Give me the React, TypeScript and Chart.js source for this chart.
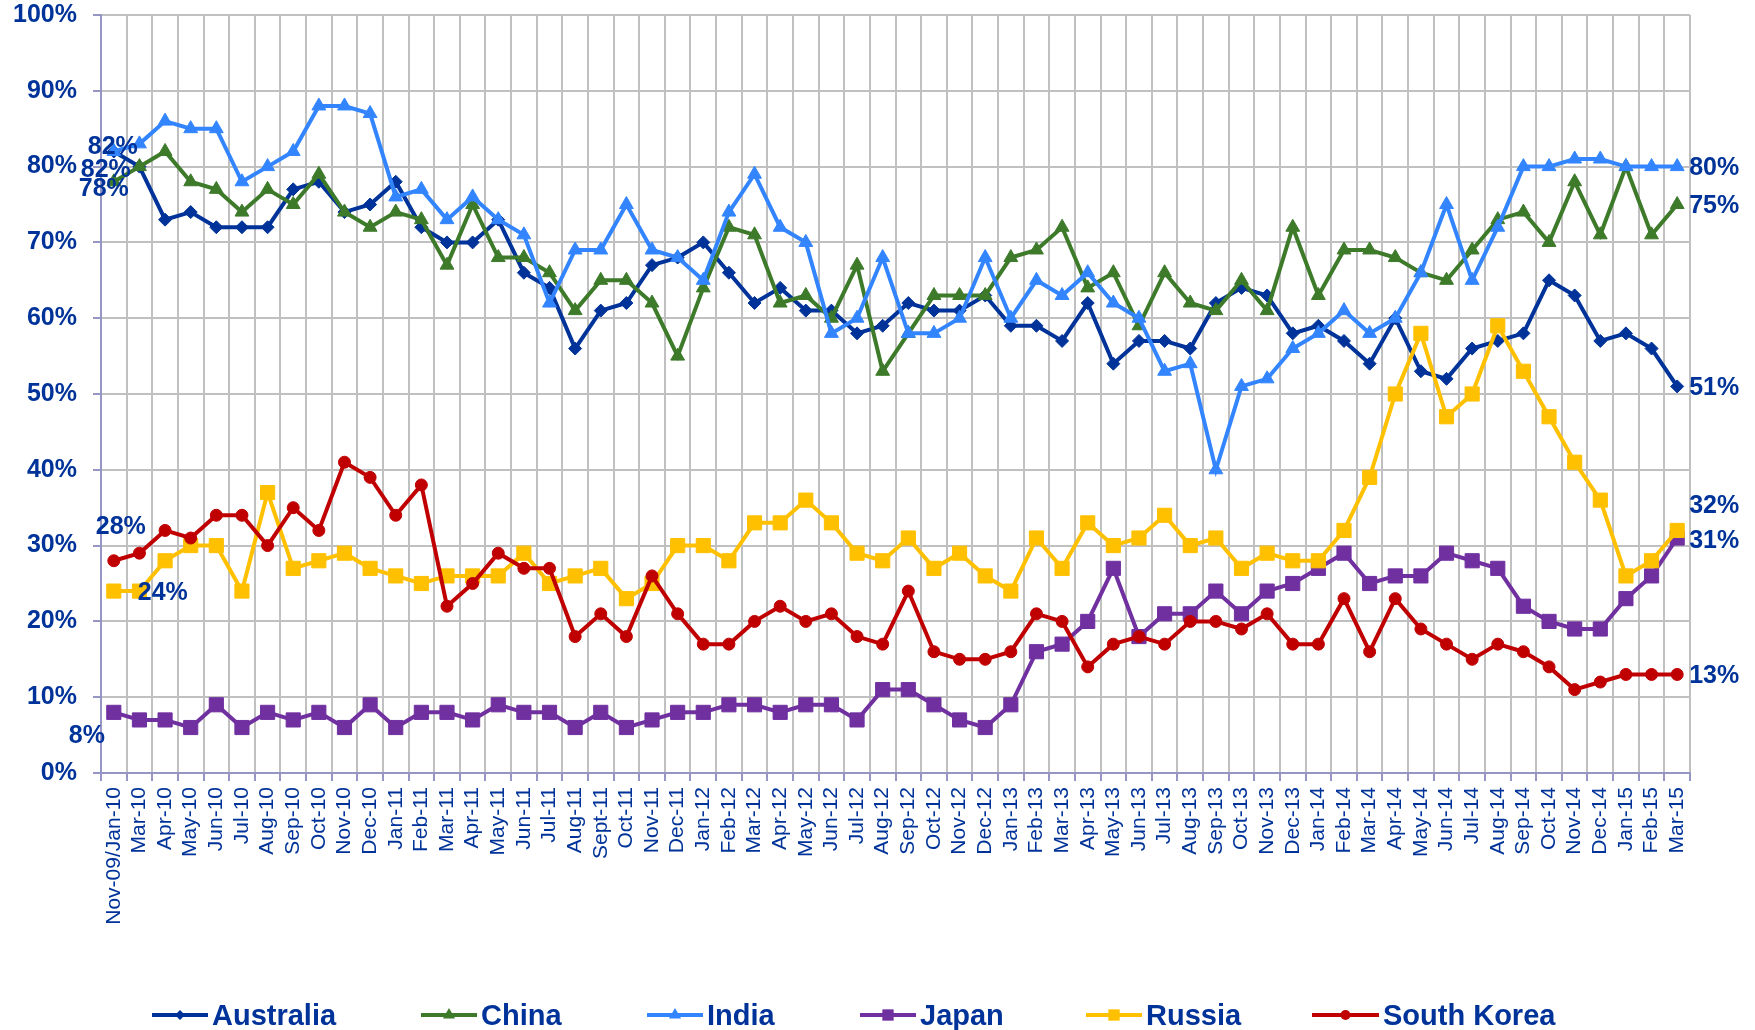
import React, { useEffect, useRef } from 'react';
import { Chart, registerables } from 'chart.js';

Chart.register(...registerables);

// ---------------- data ----------------
const categories = [
  'Nov-09/Jan-10', 'Mar-10', 'Apr-10', 'May-10', 'Jun-10', 'Jul-10', 'Aug-10', 'Sep-10', 'Oct-10', 'Nov-10',
  'Dec-10', 'Jan-11', 'Feb-11', 'Mar-11', 'Apr-11', 'May-11', 'Jun-11', 'Jul-11', 'Aug-11', 'Sept-11',
  'Oct-11', 'Nov-11', 'Dec-11', 'Jan-12', 'Feb-12', 'Mar-12', 'Apr-12', 'May-12', 'Jun-12', 'Jul-12',
  'Aug-12', 'Sep-12', 'Oct-12', 'Nov-12', 'Dec-12', 'Jan-13', 'Feb-13', 'Mar-13', 'Apr-13', 'May-13',
  'Jun-13', 'Jul-13', 'Aug-13', 'Sep-13', 'Oct-13', 'Nov-13', 'Dec-13', 'Jan-14', 'Feb-14', 'Mar-14',
  'Apr-14', 'May-14', 'Jun-14', 'Jul-14', 'Aug-14', 'Sep-14', 'Oct-14', 'Nov-14', 'Dec-14', 'Jan-15',
  'Feb-15', 'Mar-15',
];

const australia = [
  82, 80, 73, 74, 72, 72, 72, 77, 78, 74,
  75, 78, 72, 70, 70, 73, 66, 64, 56, 61,
  62, 67, 68, 70, 66, 62, 64, 61, 61, 58,
  59, 62, 61, 61, 63, 59, 59, 57, 62, 54,
  57, 57, 56, 62, 64, 63, 58, 59, 57, 54,
  60, 53, 52, 56, 57, 58, 65, 63, 57, 58,
  56, 51,
];

const china = [
  78, 80, 82, 78, 77, 74, 77, 75, 79, 74,
  72, 74, 73, 67, 75, 68, 68, 66, 61, 65,
  65, 62, 55, 64, 72, 71, 62, 63, 60, 67,
  53, 58, 63, 63, 63, 68, 69, 72, 64, 66,
  59, 66, 62, 61, 65, 61, 72, 63, 69, 69,
  68, 66, 65, 69, 73, 74, 70, 78, 71, 80,
  71, 75,
];

const india = [
  82, 83, 86, 85, 85, 78, 80, 82, 88, 88,
  87, 76, 77, 73, 76, 73, 71, 62, 69, 69,
  75, 69, 68, 65, 74, 79, 72, 70, 58, 60,
  68, 58, 58, 60, 68, 60, 65, 63, 66, 62,
  60, 53, 54, 40, 51, 52, 56, 58, 61, 58,
  60, 66, 75, 65, 72, 80, 80, 81, 81, 80,
  80, 80,
];

const japan = [
  8, 7, 7, 6, 9, 6, 8, 7, 8, 6,
  9, 6, 8, 8, 7, 9, 8, 8, 6, 8,
  6, 7, 8, 8, 9, 9, 8, 9, 9, 7,
  11, 11, 9, 7, 6, 9, 16, 17, 20, 27,
  18, 21, 21, 24, 21, 24, 25, 27, 29, 25,
  26, 26, 29, 28, 27, 22, 20, 19, 19, 23,
  26, 31,
];

const russia = [
  24, 24, 28, 30, 30, 24, 37, 27, 28, 29,
  27, 26, 25, 26, 26, 26, 29, 25, 26, 27,
  23, 25, 30, 30, 28, 33, 33, 36, 33, 29,
  28, 31, 27, 29, 26, 24, 31, 27, 33, 30,
  31, 34, 30, 31, 27, 29, 28, 28, 32, 39,
  50, 58, 47, 50, 59, 53, 47, 41, 36, 26,
  28, 32,
];

const southKorea = [
  28, 29, 32, 31, 34, 34, 30, 35, 32, 41,
  39, 34, 38, 22, 25, 29, 27, 27, 18, 21,
  18, 26, 21, 17, 17, 20, 22, 20, 21, 18,
  17, 24, 16, 15, 15, 16, 21, 20, 14, 17,
  18, 17, 20, 20, 19, 21, 17, 17, 23, 16,
  23, 19, 17, 15, 17, 16, 14, 11, 12, 13,
  13, 13,
];

const seriesNames = ['Australia', 'China', 'India', 'Japan', 'Russia', 'South Korea'];
const seriesValues = [australia, china, india, japan, russia, southKorea];

// y-axis tick values
const yTicks = [0, 10, 20, 30, 40, 50, 60, 70, 80, 90, 100];

// ---------------- styles ----------------
const FONT = '"Liberation Sans", Arial, Helvetica, sans-serif';
const TEXT = '#003399';
const GRID = '#C0C0C0';
const AXIS = '#9696C4';

type SeriesStyle = {
  color: string;
  pointStyle: string;
  radius: number;
  legendRadius: number;
  legendX: number;
  legendLine: number;
  leftOffset: [number, number];
  rightOffset: number;
};

const seriesStyles: SeriesStyle[] = [
  { color: '#003399', pointStyle: 'rectRot', radius: 6.5, legendRadius: 5, legendX: 152, legendLine: 56, leftOffset: [-8, 19], rightOffset: 2 },
  { color: '#3D7A2A', pointStyle: 'triangle', radius: 8, legendRadius: 7, legendX: 421, legendLine: 56, leftOffset: [-10, 7], rightOffset: 2 },
  { color: '#3385FF', pointStyle: 'triangle', radius: 8, legendRadius: 7, legendX: 647, legendLine: 56, leftOffset: [-1, -4], rightOffset: 2 },
  { color: '#7030A0', pointStyle: 'rect', radius: 10, legendRadius: 8, legendX: 860, legendLine: 56, leftOffset: [-27, 24], rightOffset: 3 },
  { color: '#FFC000', pointStyle: 'rect', radius: 10, legendRadius: 8, legendX: 1086, legendLine: 56, leftOffset: [49, 2], rightOffset: -24 },
  { color: '#C00000', pointStyle: 'circle', radius: 6, legendRadius: 5, legendX: 1312, legendLine: 67, leftOffset: [7, -34], rightOffset: 2 },
];

function drawMarker(ctx: CanvasRenderingContext2D, style: string, x: number, y: number, r: number, color: string) {
  ctx.fillStyle = color;
  ctx.beginPath();
  if (style === 'rectRot') {
    ctx.moveTo(x - r, y);
    ctx.lineTo(x, y - r);
    ctx.lineTo(x + r, y);
    ctx.lineTo(x, y + r);
    ctx.closePath();
  } else if (style === 'triangle') {
    for (let k = 0; k < 3; k++) {
      const a = (k * 2 * Math.PI) / 3;
      const px = x + Math.sin(a) * r;
      const py = y - Math.cos(a) * r;
      if (k === 0) ctx.moveTo(px, py);
      else ctx.lineTo(px, py);
    }
    ctx.closePath();
  } else if (style === 'rect') {
    const s = r * Math.SQRT1_2;
    ctx.rect(x - s, y - s, 2 * s, 2 * s);
  } else {
    ctx.arc(x, y, r, 0, Math.PI * 2);
  }
  ctx.fill();
}

const endLabelsPlugin = {
  id: 'endLabels',
  afterDatasetsDraw(chart: any) {
    const ctx: CanvasRenderingContext2D = chart.ctx;
    ctx.save();
    ctx.font = `bold 25px ${FONT}`;
    ctx.fillStyle = TEXT;
    ctx.textBaseline = 'middle';
    chart.data.datasets.forEach((ds: any, i: number) => {
      const meta = chart.getDatasetMeta(i);
      const pts = meta.data;
      const st = seriesStyles[i];
      const first = pts[0];
      const last = pts[pts.length - 1];
      ctx.textAlign = 'center';
      ctx.fillText(ds.data[0] + '%', first.x + st.leftOffset[0], first.y + st.leftOffset[1]);
      ctx.textAlign = 'left';
      ctx.fillText(ds.data[ds.data.length - 1] + '%', last.x + 12, last.y + st.rightOffset);
    });
    ctx.restore();
  },
};

const legendPlugin = {
  id: 'lineLegend',
  afterDraw(chart: any) {
    const ctx: CanvasRenderingContext2D = chart.ctx;
    ctx.save();
    ctx.font = `bold 29px ${FONT}`;
    const y = 1015;
    chart.data.datasets.forEach((ds: any, i: number) => {
      const st = seriesStyles[i];
      const x = st.legendX;
      ctx.strokeStyle = st.color;
      ctx.lineWidth = 4;
      ctx.beginPath();
      ctx.moveTo(x, y);
      ctx.lineTo(x + st.legendLine, y);
      ctx.stroke();
      drawMarker(ctx, st.pointStyle, x + st.legendLine / 2, y, st.legendRadius, st.color);
      ctx.fillStyle = TEXT;
      ctx.textAlign = 'left';
      ctx.textBaseline = 'alphabetic';
      ctx.fillText(ds.label, x + st.legendLine + 4, y + 10);
    });
    ctx.restore();
  },
};

export default function App() {
  const canvasRef = useRef<HTMLCanvasElement | null>(null);

  useEffect(() => {
    const canvas = canvasRef.current;
    if (!canvas) return;

    const datasets = seriesNames.map((name, i) => {
      const st = seriesStyles[i];
      return {
        label: name,
        data: seriesValues[i],
        borderColor: st.color,
        backgroundColor: st.color,
        borderWidth: 4,
        pointStyle: st.pointStyle,
        pointRadius: st.radius,
        pointBackgroundColor: st.color,
        pointBorderColor: st.color,
        pointBorderWidth: 1,
        tension: 0,
        fill: false,
        order: seriesNames.length - 1 - i,
      };
    });

    const chart = new Chart(canvas, {
      type: 'line',
      data: { labels: categories, datasets },
      options: {
        animation: false,
        responsive: false,
        maintainAspectRatio: false,
        devicePixelRatio: 1,
        events: [],
        layout: { padding: { left: 0, right: 65, top: 15, bottom: 0 } },
        plugins: {
          legend: { display: false },
          tooltip: { enabled: false },
          title: { display: false },
        },
        scales: {
          x: {
            type: 'category',
            offset: true,
            grid: {
              offset: true,
              color: (c: any) => (c.index === 0 ? 'rgba(0,0,0,0)' : GRID),
              lineWidth: 2,
              tickLength: 8,
              tickColor: AXIS,
              tickWidth: 2,
            },
            border: { color: AXIS, width: 2 },
            ticks: {
              autoSkip: false,
              minRotation: 90,
              maxRotation: 90,
              padding: 6,
              color: TEXT,
              font: { family: FONT, size: 21, weight: 'normal' },
            },
            afterFit: (scale: any) => {
              scale.height = 257;
              scale.paddingLeft = 0;
              scale.paddingRight = 0;
            },
          },
          y: {
            min: 0,
            max: 100,
            afterBuildTicks: (scale: any) => {
              scale.ticks = yTicks.map((v) => ({ value: v }));
            },
            grid: {
              color: (c: any) => (c.tick && c.tick.value === 0 ? 'rgba(0,0,0,0)' : GRID),
              lineWidth: 2,
              tickLength: 8,
              tickColor: AXIS,
              tickWidth: 2,
            },
            border: { color: AXIS, width: 2 },
            ticks: {
              padding: 16,
              color: TEXT,
              font: { family: FONT, size: 25, weight: 'bold' },
              callback: (v: any) => v + '%',
            },
            afterFit: (scale: any) => {
              scale.width = 101;
              scale.paddingTop = 0;
              scale.paddingBottom = 0;
            },
          },
        },
      } as any,
      plugins: [endLabelsPlugin, legendPlugin],
    });

    return () => {
      chart.destroy();
    };
  }, []);

  return (
    <div style={{ position: 'fixed', left: 0, top: 0, width: 1755, height: 1030, background: '#ffffff' }}>
      <canvas ref={canvasRef} width={1755} height={1030} style={{ display: 'block', width: 1755, height: 1030 }} />
    </div>
  );
}
